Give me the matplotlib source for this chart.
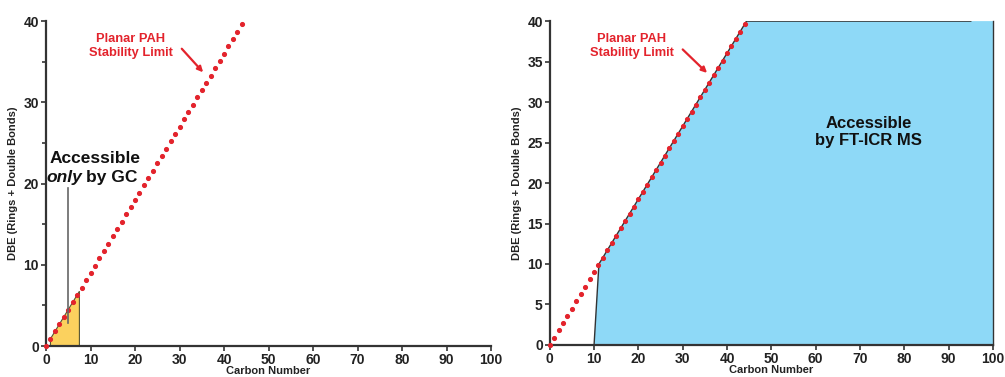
import numpy as np
import matplotlib.pyplot as plt

plt.rcParams['font.family'] = ['Liberation Sans', 'DejaVu Sans']

# Planar PAH stability limit: DBE = 0.9 * C, one point per carbon
carbon_pts = np.arange(0, 45)
dbe_slope = 0.9
dbe_pts = dbe_slope * carbon_pts

# GC-accessible region (small molecules)
gc_carbon = [1, 1, 7.5, 7.5]
gc_dbe = [0, 0.9, 6.75, 0]

# FT-ICR MS accessible region
ft_carbon = [10, 11.1, 44.4, 100, 100]
ft_dbe = [0, 10, 40, 40, 0]

x_ticks = list(range(0, 101, 10))
y_ticks_left = [0, 10, 20, 30, 40]
y_ticks_right = list(range(0, 41, 5))

red = '#e3232c'
axis_col = '#333333'

fig = plt.figure(figsize=(10.05, 3.77), dpi=100)
ax1 = fig.add_axes([0.0458, 0.082, 0.4428, 0.862])
ax2 = fig.add_axes([0.547, 0.085, 0.441, 0.859])


def style(ax, yticks, minor=None):
    ax.set_xlim(0, 100)
    ax.set_ylim(0, 40)
    ax.set_xticks(x_ticks)
    ax.set_yticks(yticks)
    if minor is not None:
        ax.set_yticks(minor, minor=True)
    for s in ('top', 'right'):
        ax.spines[s].set_visible(False)
    for s in ('left', 'bottom'):
        ax.spines[s].set_color(axis_col)
        ax.spines[s].set_linewidth(1.6)
    ax.tick_params(which='both', colors=axis_col, width=1.2, length=3.5,
                   labelsize=10, pad=1.5)
    ax.tick_params(which='minor', length=3)
    for lab in ax.get_xticklabels() + ax.get_yticklabels():
        lab.set_fontweight('bold')
        lab.set_color('#222222')
    ax.set_xlabel('Carbon Number', fontsize=8, fontweight='bold',
                  labelpad=0, color='#222222')
    ax.xaxis.set_label_coords(0.5, -0.062)
    ax.set_ylabel('DBE (Rings + Double Bonds)', fontsize=8, fontweight='bold',
                  labelpad=4, color='#222222')


def stability_label(ax, x, y, tip, tail):
    ax.annotate('', xy=tip, xytext=tail,
                arrowprops=dict(arrowstyle='-|>', color=red, lw=1.6,
                                mutation_scale=8, shrinkA=0, shrinkB=0))
    ax.text(x, y, 'Planar PAH\nStability Limit', ha='center', va='center',
            fontsize=9.3, fontweight='bold', color=red, linespacing=1.2)


# left panel
style(ax1, y_ticks_left, minor=[5, 15, 25, 35])
ax1.fill(gc_carbon, gc_dbe, color='#fbd15e', edgecolor='#555533',
         linewidth=0.8, zorder=2)
ax1.plot(carbon_pts, dbe_pts, linestyle='none', marker='o', markersize=2.7,
         color=red, zorder=3, clip_on=False)
ax1.plot([5, 5], [2.8, 19.4], color='#666666', linewidth=1.2, zorder=4)
ax1.text(11, 23.1, 'Accessible', ha='center', va='center',
         fontsize=12.5, fontweight='bold', color='#111111')
ax1.text(8.1, 20.8, 'only', ha='right', va='center', fontsize=12.5,
         fontweight='bold', fontstyle='italic', color='#111111')
ax1.text(9.0, 20.8, 'by GC', ha='left', va='center', fontsize=12.5,
         fontweight='bold', color='#111111')
stability_label(ax1, 19, 36.9, (35.3, 33.7), (30.5, 36.6))

# right panel
style(ax2, y_ticks_right)
ax2.fill(ft_carbon, ft_dbe, color='#8ed9f7', edgecolor='none', zorder=2)
ax2.plot(ft_carbon[:3] + [95], ft_dbe[:3] + [40], color='#333333',
         linewidth=1.0, zorder=3)
ax2.plot([100, 100], [0, 40], color='#333333', linewidth=1.0, zorder=3,
         clip_on=False)
ax2.plot(carbon_pts, dbe_pts, linestyle='none', marker='o', markersize=2.7,
         color=red, zorder=4, clip_on=False)
ax2.text(72, 26.3, 'Accessible\nby FT-ICR MS', ha='center', va='center',
         fontsize=12, fontweight='bold', color='#111111', linespacing=1.2)
stability_label(ax2, 18.5, 36.9, (35.5, 33.6), (30, 36.5))

fig.savefig('out.png', dpi=100)
